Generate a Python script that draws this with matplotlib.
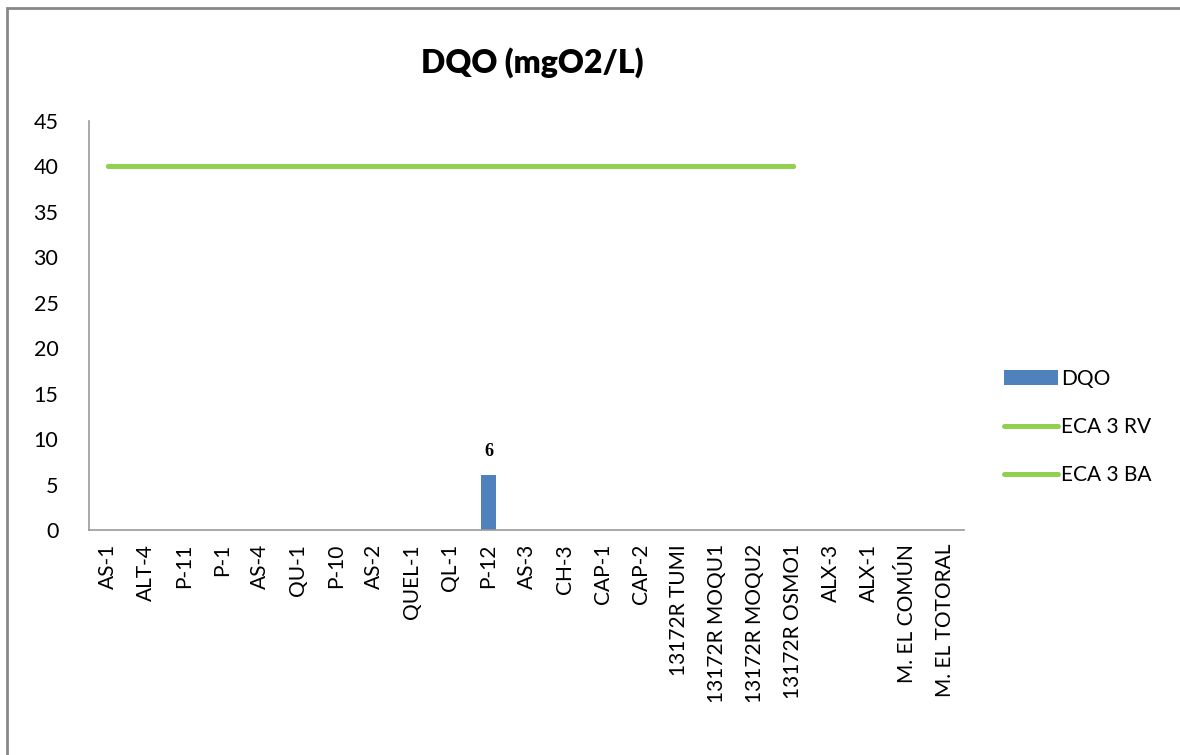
import matplotlib
matplotlib.use("Agg")
import matplotlib.pyplot as plt
import numpy as np
from matplotlib.patches import Rectangle

categories = ["AS-1", "ALT-4", "P-11", "P-1", "AS-4", "QU-1", "P-10", "AS-2",
              "QUEL-1", "QL-1", "P-12", "AS-3", "CH-3", "CAP-1", "CAP-2",
              "13172R TUMI", "13172R MOQU1", "13172R MOQU2", "13172R OSMO1",
              "ALX-3", "ALX-1", "M. EL COMÚN", "M. EL TOTORAL"]
dqo = [np.nan] * 10 + [6] + [np.nan] * 12
eca_rv = [40] * 19 + [np.nan] * 4
eca_ba = [40] * 19 + [np.nan] * 4
yticks = [0, 5, 10, 15, 20, 25, 30, 35, 40, 45]

plt.rcParams['font.family'] = ['Lato', 'DejaVu Sans']

fig = plt.figure(figsize=(11.8, 7.55), dpi=100)
ax = fig.add_axes([89 / 1180, 1 - 530 / 755, (964 - 89) / 1180, (530 - 121) / 755])

x = np.arange(len(categories))
bar_color = "#4F81BD"
green = "#92D050"
b = ax.bar(x, np.nan_to_num(dqo, nan=0), width=0.4, color=bar_color, label="DQO", zorder=2)
l1, = ax.plot(x, eca_rv, color=green, lw=3.6, solid_capstyle="round", label="ECA 3 RV", zorder=3)
l2, = ax.plot(x, eca_ba, color=green, lw=3.6, solid_capstyle="round", label="ECA 3 BA", zorder=3)

for xi, v in zip(x, dqo):
    if not np.isnan(v):
        ax.text(xi, v + 1.7, f"{v:g}", ha="center", va="bottom", fontsize=13,
                fontweight="bold", family=["Liberation Serif", "DejaVu Serif"])

ax.set_xlim(-0.5, len(categories) - 0.5)
ax.set_ylim(0, 45)
ax.set_yticks(yticks)
ax.set_xticks(x)
ax.set_xticklabels(categories, rotation=90, fontsize=15)
ax.tick_params(axis="y", labelsize=15.5, length=0, pad=22)
ax.tick_params(axis="x", length=0, pad=10)
for s in ["top", "right"]:
    ax.spines[s].set_visible(False)
for s in ["left", "bottom"]:
    ax.spines[s].set_color("#9a9a9a")
    ax.spines[s].set_linewidth(1.2)

fig.text(532 / 1180, 1 - 63 / 755, "DQO (mgO2/L)", ha="center", va="center",
         fontsize=23, fontweight="heavy")

leg = ax.legend([b, l1, l2], ["DQO", "ECA 3 RV", "ECA 3 BA"],
                loc="center left", bbox_to_anchor=(985 / 1180, 1 - 427 / 755),
                bbox_transform=fig.transFigure, frameon=False, fontsize=15,
                handlelength=2.6, handletextpad=0.15, labelspacing=1.35)

fig.patches.append(Rectangle((7 / 1180, -0.05), 1.1, 1.05 - 8 / 755,
                             transform=fig.transFigure, fill=False,
                             edgecolor="#888888", lw=2))

fig.savefig("out.png", dpi=100)
